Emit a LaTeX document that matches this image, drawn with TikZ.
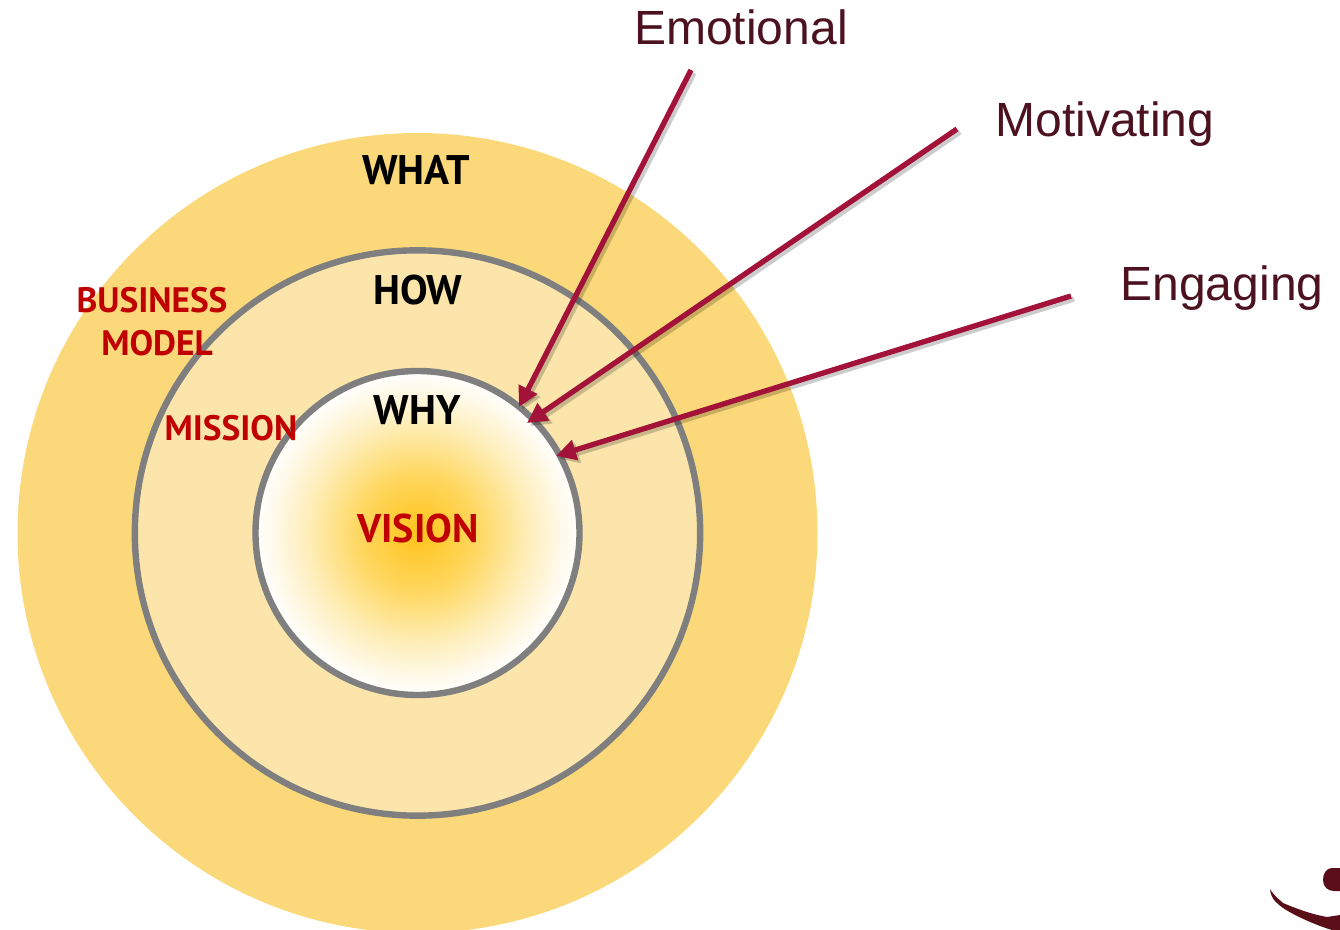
\documentclass[tikz,border=0pt]{standalone}
\usepackage{fontspec}
\setmainfont{Liberation Sans}
\newfontfamily\ringfont{PT Sans}
\usetikzlibrary{arrows.meta}
\definecolor{outerring}{HTML}{FBD97A}
\definecolor{middlering}{HTML}{FBE5AA}
\definecolor{ringline}{HTML}{7F7F7F}
\definecolor{redtext}{HTML}{C00000}
\definecolor{arrowred}{HTML}{A31238}
\definecolor{wine}{HTML}{4D1220}
\definecolor{logowine}{HTML}{5A0F18}
\definecolor{glowa}{HTML}{FFC31A}
\definecolor{glowb}{HTML}{FFD75F}
\definecolor{glowc}{HTML}{FEEFBE}
\definecolor{glowd}{HTML}{FFFBF0}
\pgfdeclareradialshading{visionglow}{\pgfpoint{0bp}{0bp}}{%
  color(0bp)=(glowa);
  color(9bp)=(glowb);
  color(17.5bp)=(glowc);
  color(23bp)=(glowd);
  color(25bp)=(white);
  color(50bp)=(white)}

\begin{document}
\begin{tikzpicture}[x=0.75pt,y=-0.75pt,
    ringlabel/.style ={font=\ringfont\fontsize{31}{34}\selectfont\bfseries, inner sep=0pt, text=black},
    visionlabel/.style ={font=\ringfont\fontsize{30}{32}\selectfont\bfseries, inner sep=0pt, text=redtext},
    redlabel/.style ={font=\ringfont\fontsize{26.5}{28}\selectfont\bfseries, inner sep=0pt, text=redtext},
    quality/.style ={font=\fontsize{36}{40}\selectfont, text=wine, inner sep=0pt},
    pointer/.style ={line width=4pt, arrowred, -{Triangle[length=15pt,width=15pt]}},
    pointershadow/.style ={line width=4pt, black, opacity=0.2, -{Triangle[length=15pt,width=15pt]}}]
   \useasboundingbox (0,0) rectangle (1340,930);
   \clip (0,0) rectangle (1340,930);
   \node[circle, fill=outerring, inner sep=0pt, minimum size=600pt] (outer) at (417.5,533) {};
   \node[circle, fill=middlering, draw=ringline, line width=4.8pt, inner sep=0pt, minimum size=424pt] (middle) at (417.5,533) {};
   \node[circle, shading=visionglow, draw=ringline, line width=4.8pt, inner sep=0pt, minimum size=243pt] (inner) at (417.5,533) {};
   \node[ringlabel] (what) at (416,170) {WHAT};
   \node[ringlabel] (how) at (418,290) {HOW};
   \node[ringlabel] (why) at (417,410) {WHY};
   \node[visionlabel] (vision) at (418,529) {VISION};
   \node[redlabel] (mission) at (231,428) {MISSION};
   \node[redlabel] (business) at (152,300) {BUSINESS};
   \node[redlabel] (model) at (157,343) {MODEL};
   \node[quality] (emotional) at (741,27) {Emotional};
   \node[quality] (motivating) at (1105,124) {Motivating};
   \node[quality] (engaging) at (1222,288) {Engaging};
   \coordinate (emotionalstart) at (691,70);
   \coordinate (motivatingstart) at (957,129);
   \coordinate (engagingstart) at (1071,296);
   \coordinate (emotionalend) at (519,407);
   \coordinate (motivatingend) at (527,423);
   \coordinate (engagingend) at (556,456);
   \foreach \quality in {emotional,motivating,engaging}
      \draw[pointershadow] ([shift={(3,3)}]\quality start) to ([shift={(3,3)}]\quality end);
   \foreach \quality in {emotional,motivating,engaging}
      \draw[pointer] (\quality start) to (\quality end);
   % logo corner
   \fill[logowine] (1332,868) .. controls (1326,868) and (1323,874) .. (1323,880) .. controls (1323,887) and (1328,891) .. (1334,891) -- (1340,891) -- (1340,868) -- cycle;
   \fill[logowine] (1270,889) .. controls (1274,896) and (1280,900) .. (1283,903) .. controls (1295,908) and (1310,914) .. (1327,917) -- (1340,915) -- (1340,930) -- (1332,930) .. controls (1318,926) and (1295,916) .. (1283,908) .. controls (1278,904) and (1271,900) .. (1270,889) -- cycle;
 \end{tikzpicture}
\end{document}
